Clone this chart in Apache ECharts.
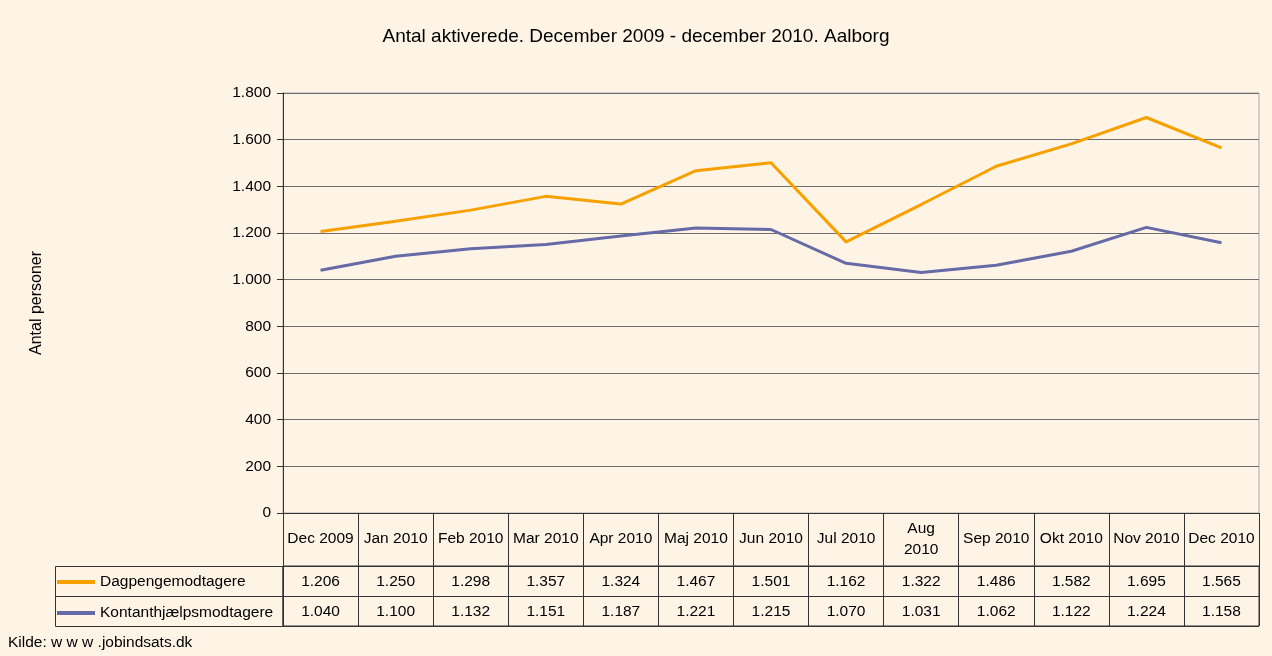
<!DOCTYPE html>
<html>
<head>
<meta charset="utf-8">
<script src="https://cdn.jsdelivr.net/npm/echarts@6/dist/echarts.min.js"></script>
<style>
html, body { margin: 0; padding: 0; background: #fef4e6; }
#chart { width: 1272px; height: 656px; }
</style>
</head>
<body>
<div id="chart"></div>
<script>
// data
var months = ['Dec 2009', 'Jan 2010', 'Feb 2010', 'Mar 2010', 'Apr 2010', 'Maj 2010', 'Jun 2010',
	'Jul 2010', 'Aug 2010', 'Sep 2010', 'Okt 2010', 'Nov 2010', 'Dec 2010'];
var dagpenge = [1206, 1250, 1298, 1357, 1324, 1467, 1501, 1162, 1322, 1486, 1582, 1695, 1565];
var kontant = [1040, 1100, 1132, 1151, 1187, 1221, 1215, 1070, 1031, 1062, 1122, 1224, 1158];
var seriesNames = ['Dagpengemodtagere', 'Kontanthjælpsmodtagere'];
var yTicks = { min: 0, max: 1800, step: 200 };

var FONT = 'Liberation Sans, Arial, sans-serif';
var FS = 15.5;

function dk(v) {
	return String(v).replace(/\B(?=(\d{3})+(?!\d))/g, '.');
}

// cells for the value table: [column, row, value]
var cells = [];
for (var i = 0; i < months.length; i++) {
	cells.push([i, 0, dagpenge[i]]);
	cells.push([i, 1, kontant[i]]);
}

var myChart = echarts.init(document.getElementById('chart'));

var options = {
	backgroundColor: '#fef4e6',
	color: ['#f7a100', '#666aa6'],
	textStyle: { fontFamily: FONT },
	animation: false,
	title: {
		text: 'Antal aktiverede. December 2009 - december 2010. Aalborg',
		left: 'center',
		top: 22,
		textStyle: { fontSize: 19, fontWeight: 'normal', color: '#000', fontFamily: FONT }
	},
	legend: {
		data: seriesNames,
		orient: 'vertical',
		left: 57,
		top: 574,
		padding: 0,
		itemGap: 15,
		itemWidth: 38,
		itemHeight: 4,
		icon: 'rect',
		textStyle: { fontSize: FS, color: '#000', lineHeight: 15, fontFamily: FONT }
	},
	grid: [
		{ left: 283, right: 13, top: 93, height: 420, show: true, borderColor: '#a9a9a9', borderWidth: 1 },
		{ left: 283, right: 13, top: 566, height: 60, show: true, borderColor: '#333', borderWidth: 1 }
	],
	xAxis: [
		{
			gridIndex: 0,
			type: 'category',
			data: months,
			boundaryGap: true,
			axisLine: { lineStyle: { color: '#333', width: 1 } },
			axisTick: { show: true, interval: 0, length: 53, lineStyle: { color: '#333' } },
			axisLabel: {
				interval: 0,
				margin: 26,
				verticalAlign: 'middle',
				color: '#000',
				fontSize: FS,
				fontFamily: FONT,
				lineHeight: 21,
				formatter: function(v) { return v === 'Aug 2010' ? 'Aug\n2010' : v; }
			}
		},
		{
			gridIndex: 1,
			type: 'category',
			data: months,
			boundaryGap: true,
			axisLine: { show: false },
			axisTick: { show: false },
			axisLabel: { show: false },
			splitLine: { show: true, interval: 0, lineStyle: { color: '#333' } }
		}
	],
	yAxis: [
		{
			gridIndex: 0,
			type: 'value',
			min: yTicks.min,
			max: yTicks.max,
			interval: yTicks.step,
			name: 'Antal personer',
			nameLocation: 'middle',
			nameGap: 238,
			nameTextStyle: { fontSize: 16, color: '#000', fontFamily: FONT },
			axisLine: { show: true, lineStyle: { color: '#333' } },
			axisTick: { show: true, length: 6, lineStyle: { color: '#333' } },
			axisLabel: { margin: 12, color: '#000', fontSize: FS, fontFamily: FONT, formatter: dk },
			splitLine: { show: true, lineStyle: { color: '#6e6e6e', width: 1 } }
		},
		{
			gridIndex: 1,
			type: 'category',
			data: seriesNames,
			inverse: true,
			axisLine: { show: false },
			axisTick: { show: false },
			axisLabel: { show: false },
			splitLine: { show: true, interval: 0, lineStyle: { color: '#333' } }
		}
	],
	graphic: [
		{
			type: 'rect',
			shape: { x: 55.5, y: 566.5, width: 227.5, height: 60 },
			style: { fill: 'none', stroke: '#333', lineWidth: 1 },
			z: 10
		},
		{
			type: 'line',
			shape: { x1: 55.5, y1: 596.5, x2: 283, y2: 596.5 },
			style: { stroke: '#333', lineWidth: 1 },
			z: 10
		},
		{
			type: 'text',
			left: 8,
			top: 635,
			style: { text: 'Kilde: w w w .jobindsats.dk', fill: '#000', fontSize: FS, fontFamily: FONT }
		}
	],
	series: [
		{
			name: seriesNames[0],
			type: 'line',
			xAxisIndex: 0,
			yAxisIndex: 0,
			data: dagpenge,
			showSymbol: false,
			symbol: 'none',
			lineStyle: { width: 3 }
		},
		{
			name: seriesNames[1],
			type: 'line',
			xAxisIndex: 0,
			yAxisIndex: 0,
			data: kontant,
			showSymbol: false,
			symbol: 'none',
			lineStyle: { width: 3 }
		},
		{
			type: 'custom',
			xAxisIndex: 1,
			yAxisIndex: 1,
			data: cells,
			silent: true,
			renderItem: function(params, api) {
				var pt = api.coord([api.value(0), api.value(1)]);
				return {
					type: 'text',
					x: pt[0],
					y: pt[1] + 1,
					style: {
						text: dk(api.value(2)),
						textAlign: 'center',
						textVerticalAlign: 'middle',
						fill: '#000',
						fontSize: FS,
						fontFamily: FONT
					}
				};
			}
		}
	]
};

myChart.setOption(options);
</script>
</body>
</html>
